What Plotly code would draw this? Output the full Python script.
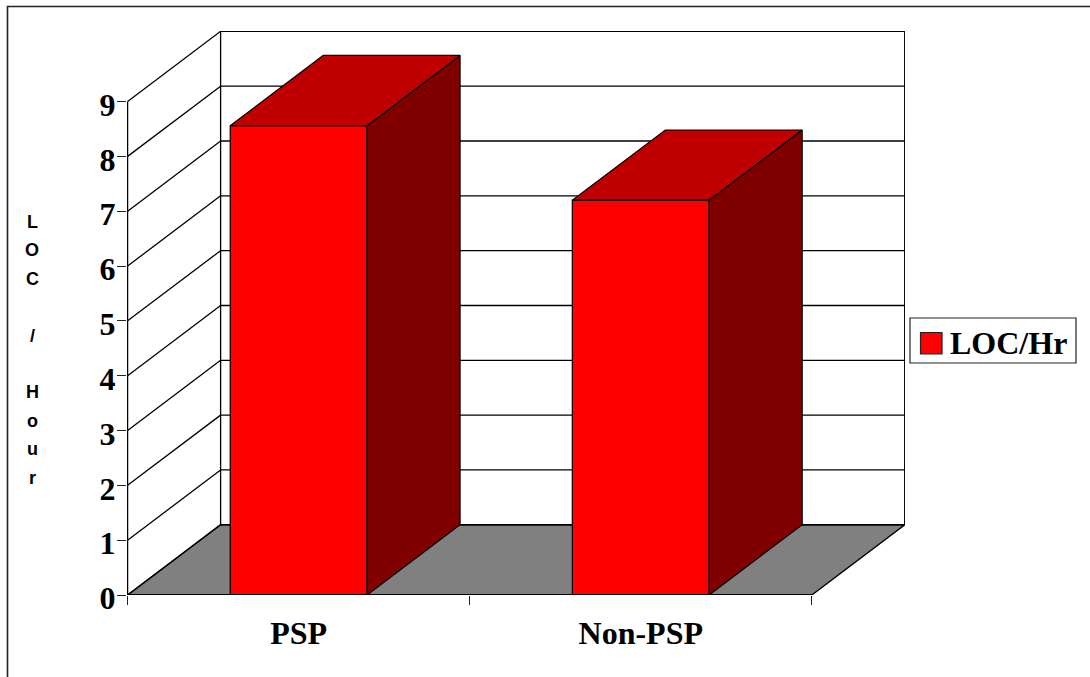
import plotly.graph_objects as go

# Chart data
categories = ["PSP", "Non-PSP"]
loc_per_hour = [8.56, 7.2]
series_name = "LOC/Hr"
value_ticks = list(range(10))
axis_title_letters = ["L", "O", "C", "", "/", "", "H", "o", "u", "r"]

# Canvas and plot-area sizes in pixels
WIDTH, HEIGHT = 1090, 677
LEFT, RIGHT, TOP, BOTTOM = 127, 185, 31, 82
CATEGORY_PX = 342.1
UNIT_PX = 54.83
AXIS_NUDGE_PX = 0.6

# Oblique offset of the back plane, expressed in axis units
DEPTH_X = 93 / CATEGORY_PX
DEPTH_Y = 70.2 / UNIT_PX
BAR_WIDTH = 0.4

plot_w = WIDTH - LEFT - RIGHT
plot_h = HEIGHT - TOP - BOTTOM
n_cat = len(categories)
centers = [i + 0.5 for i in range(n_cat)]
top_value = value_ticks[-1]

SERIF = "Liberation Serif"
SANS = "Liberation Sans"
INK = "#000000"


def paper_x(px):
    return (px - LEFT) / plot_w


def paper_y(py):
    return (HEIGHT - BOTTOM - py) / plot_h


def line(x0, y0, x1, y1, width=1.3, layer="below", color=INK):
    return dict(type="line", xref="x", yref="y", x0=x0, y0=y0, x1=x1, y1=y1,
                layer=layer, line=dict(color=color, width=width))


shapes = []

# Floor of the box
shapes.append(dict(
    type="path", xref="x", yref="y", layer="below",
    path=f"M0,0 L{DEPTH_X},{DEPTH_Y} L{n_cat + DEPTH_X},{DEPTH_Y} L{n_cat},0 Z",
    fillcolor="#808080", line=dict(color=INK, width=1.4),
))

# Gridlines on the side and back walls
for v in value_ticks:
    shapes.append(line(0, v, DEPTH_X, v + DEPTH_Y))
    shapes.append(line(DEPTH_X, v + DEPTH_Y, n_cat + DEPTH_X, v + DEPTH_Y))

# Wall edges and the front value axis
shapes.append(line(DEPTH_X, DEPTH_Y, DEPTH_X, top_value + DEPTH_Y))
shapes.append(line(n_cat + DEPTH_X, DEPTH_Y, n_cat + DEPTH_X, top_value + DEPTH_Y, 1.5))
shapes.append(line(0, 0, 0, top_value))

# Front edge of the floor sits on top of the bars
shapes.append(line(0, 0, n_cat, 0, 2, layer="above"))

# Outer chart frame, running off the right and bottom of the canvas
shapes.append(dict(
    type="rect", xref="paper", yref="paper", layer="below",
    x0=paper_x(7.5), x1=paper_x(WIDTH + 20),
    y0=paper_y(HEIGHT + 20), y1=paper_y(6.5),
    line=dict(color="#222222", width=1.6), fillcolor="rgba(0,0,0,0)",
))

# Legend box and swatch
shapes.append(dict(
    type="rect", xref="paper", yref="paper", layer="above",
    x0=paper_x(910), x1=paper_x(1076), y0=paper_y(363), y1=paper_y(318),
    line=dict(color="#222222", width=1.2), fillcolor="#ffffff",
))
shapes.append(dict(
    type="rect", xref="paper", yref="paper", layer="above",
    x0=paper_x(920.5), x1=paper_x(942), y0=paper_y(354), y1=paper_y(332.5),
    line=dict(color="#222222", width=1.2), fillcolor="#ff0000",
))

annotations = [dict(
    xref="paper", yref="paper", x=paper_x(948), y=paper_y(343),
    xanchor="left", yanchor="middle", showarrow=False, text=f"<b>{series_name}</b>",
    font=dict(family=SERIF, size=32, color=INK),
)]

# Vertical axis title, one letter per row
for i, letter in enumerate(axis_title_letters):
    if letter:
        annotations.append(dict(
            xref="paper", yref="paper", x=paper_x(32), y=paper_y(222 + i * 28.4),
            xanchor="center", yanchor="middle", showarrow=False, text=f"<b>{letter}</b>",
            font=dict(family=SANS, size=18, color=INK),
        ))

fig = go.Figure()

# Front faces
fig.add_trace(go.Bar(
    x=centers, y=loc_per_hour, width=BAR_WIDTH, name=series_name,
    marker=dict(color="#ff0000", line=dict(color=INK, width=1.2)),
    showlegend=False,
))

# Side and top faces projected from the same values
for c, v in zip(centers, loc_per_hour):
    xl, xr = c - BAR_WIDTH / 2, c + BAR_WIDTH / 2
    fig.add_trace(go.Scatter(
        x=[xr, xr + DEPTH_X, xr + DEPTH_X, xr, xr],
        y=[0, DEPTH_Y, v + DEPTH_Y, v, 0],
        mode="lines", fill="toself", fillcolor="#800000",
        line=dict(color=INK, width=1.2), showlegend=False, hoverinfo="skip",
    ))
    fig.add_trace(go.Scatter(
        x=[xl, xl + DEPTH_X, xr + DEPTH_X, xr, xl],
        y=[v, v + DEPTH_Y, v + DEPTH_Y, v, v],
        mode="lines", fill="toself", fillcolor="#c00000",
        line=dict(color=INK, width=1.2), showlegend=False, hoverinfo="skip",
    ))

x_start = -AXIS_NUDGE_PX / CATEGORY_PX

fig.update_layout(
    width=WIDTH, height=HEIGHT,
    margin=dict(l=LEFT, r=RIGHT, t=TOP, b=BOTTOM, pad=0, autoexpand=False),
    paper_bgcolor="#ffffff", plot_bgcolor="rgba(0,0,0,0)",
    showlegend=False, shapes=shapes, annotations=annotations,
    xaxis=dict(
        range=[x_start, x_start + plot_w / CATEGORY_PX],
        showgrid=False, zeroline=False, showline=False,
        tickmode="array", tickvals=centers, ticktext=categories, ticks="",
        ticklabelstandoff=16,
        tickfont=dict(family=SERIF, size=32, color=INK, weight="bold"),
        minor=dict(tickmode="array", tickvals=list(range(n_cat + 1)), ticks="outside",
                   ticklen=9, tickwidth=1.2, tickcolor="#222222", showgrid=False),
    ),
    yaxis=dict(
        range=[0, plot_h / UNIT_PX], showgrid=False, zeroline=False, showline=False,
        tickmode="array", tickvals=value_ticks, ticks="outside", ticklen=9,
        tickwidth=1.2, tickcolor="#222222",
        ticklabelstandoff=-5, ticklabelshift=3,
        tickfont=dict(family=SERIF, size=32, color=INK, weight="bold"),
    ),
)

fig.write_html("out.html")
